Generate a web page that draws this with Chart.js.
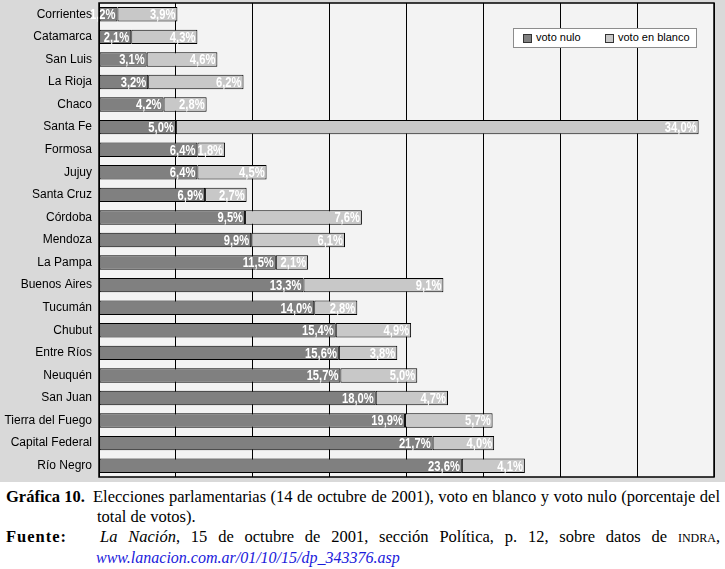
<!DOCTYPE html>
<html>
<head>
<meta charset="utf-8">
<script src="https://cdn.jsdelivr.net/npm/chart.js@4.4.1/dist/chart.umd.min.js"></script>
<style>
  body { margin: 0; background: #fff; width: 725px; height: 569px; overflow: hidden; }
  #wrap { position: relative; width: 725px; height: 482px; background: #d9d9d9; }
  #votosChart { display: block; }
  #legend {
    position: absolute; left: 513px; top: 28px; width: 182px; height: 18px;
    background: #fff; border: 1px solid #8c8c8c;
    font: 11px "Liberation Sans", Arial, sans-serif; color: #000;
  }
  #legend span.box { position: absolute; top: 5px; width: 7px; height: 7px; border: 1px solid #333; }
  #legend span.txt { position: absolute; top: 2px; }
  .cap { position: absolute; font: 16.5px "Liberation Serif", "Times New Roman", serif; color: #000; line-height: 20px; }
  .cap b { font-weight: bold; }
</style>
</head>
<body>
<div id="wrap">
  <canvas id="votosChart" width="725" height="482"></canvas>
  <div id="legend">
    <span class="box" style="left:9px;background:#808080"></span><span class="txt" style="left:22px">voto nulo</span>
    <span class="box" style="left:91px;background:#c8c8c8"></span><span class="txt" style="left:104px">voto en blanco</span>
  </div>
</div>
<div class="cap" style="left:6px;top:487px;"><b>Gráfica 10.</b></div>
<div class="cap" style="left:93px;top:487px;width:627px;">
  <div style="text-align:justify;text-align-last:justify;">Elecciones parlamentarias (14 de octubre de 2001), voto en blanco y voto nulo (porcentaje del</div>
  <div style="padding-left:4px">total de votos).</div>
</div>
<div class="cap" style="left:6px;top:527px;letter-spacing:1px;"><b>Fuente:</b></div>
<div class="cap" style="left:96px;top:527px;width:624px;">
  <div style="text-align:justify;text-align-last:justify;padding-left:4px"><i>La Nación</i>, 15 de octubre de 2001, sección Política, p. 12, sobre datos de <span style="font-size:12px">INDRA</span>,</div>
  <div style="color:#1a1adb;font-style:italic;font-size:16px">www.lanacion.com.ar/01/10/15/dp_343376.asp</div>
</div>

<script>
// Datos (porcentaje del total de votos)
const provincias = [
  "Corrientes", "Catamarca", "San Luis", "La Rioja", "Chaco", "Santa Fe",
  "Formosa", "Jujuy", "Santa Cruz", "Córdoba", "Mendoza", "La Pampa",
  "Buenos Aires", "Tucumán", "Chubut", "Entre Ríos", "Neuquén", "San Juan",
  "Tierra del Fuego", "Capital Federal", "Río Negro"
];
const votoNulo = [
  1.2, 2.1, 3.1, 3.2, 4.2, 5.0, 6.4, 6.4, 6.9, 9.5, 9.9, 11.5,
  13.3, 14.0, 15.4, 15.6, 15.7, 18.0, 19.9, 21.7, 23.6
];
const votoBlanco = [
  3.9, 4.3, 4.6, 6.2, 2.8, 34.0, 1.8, 4.5, 2.7, 7.6, 6.1, 2.1,
  9.1, 2.8, 4.9, 3.8, 5.0, 4.7, 5.7, 4.0, 4.1
];
const xTicks = [0, 5, 10, 15, 20, 25, 30, 35, 40];

// Fondo y marco del area de grafico
const plotArea = {
  id: "plotArea",
  beforeDraw(chart) {
    const { ctx, chartArea: a } = chart;
    ctx.save();
    ctx.fillStyle = "#f3f3f3";
    ctx.fillRect(a.left, a.top, a.right - a.left, a.bottom - a.top);
    ctx.restore();
  },
  afterDraw(chart) {
    const { ctx, chartArea: a } = chart;
    ctx.save();
    ctx.strokeStyle = "#000";
    ctx.lineWidth = 1.5;
    ctx.strokeRect(a.left, a.top, a.right - a.left, a.bottom - a.top);
    ctx.restore();
  }
};

// Etiquetas de valor dentro de cada segmento (letra estrecha)
const valueLabels = {
  id: "valueLabels",
  afterDatasetsDraw(chart) {
    const ctx = chart.ctx;
    ctx.save();
    ctx.font = 'bold 14px "Liberation Sans", Arial, sans-serif';
    ctx.fillStyle = "#fff";
    ctx.textAlign = "right";
    ctx.textBaseline = "middle";
    chart.data.datasets.forEach((ds, i) => {
      chart.getDatasetMeta(i).data.forEach((bar, j) => {
        const txt = ds.data[j].toFixed(1).replace(".", ",") + "%";
        ctx.save();
        ctx.translate(bar.x - 2, bar.y + 1);
        ctx.scale(0.8, 1);
        ctx.fillText(txt, 0, 0);
        ctx.restore();
      });
    });
    ctx.restore();
  }
};

new Chart(document.getElementById("votosChart"), {
  type: "bar",
  data: {
    labels: provincias,
    datasets: [
      {
        label: "voto nulo",
        data: votoNulo,
        backgroundColor: "#808080",
        borderColor: "#000",
        borderWidth: 1,
        borderSkipped: false
      },
      {
        label: "voto en blanco",
        data: votoBlanco,
        backgroundColor: "#c8c8c8",
        borderColor: "#000",
        borderWidth: 1,
        borderSkipped: false
      }
    ]
  },
  options: {
    indexAxis: "y",
    responsive: false,
    animation: false,
    layout: { padding: { left: 0, right: 11, top: 3, bottom: 5 } },
    datasets: { bar: { categoryPercentage: 1, barPercentage: 0.64 } },
    plugins: { legend: { display: false }, tooltip: { enabled: false } },
    scales: {
      x: {
        stacked: true,
        min: 0,
        max: 40,
        afterBuildTicks(s) { s.ticks = xTicks.map(v => ({ value: v })); },
        ticks: { display: false },
        grid: { color: "#000", lineWidth: 1, drawTicks: false },
        border: { display: false },
        afterFit(s) { s.height = 0; s.paddingLeft = 0; s.paddingRight = 0; }
      },
      y: {
        stacked: true,
        afterFit(s) { s.width = 99; s.paddingTop = 0; s.paddingBottom = 0; },
        ticks: {
          color: "#000",
          padding: 7,
          font: { family: '"Liberation Sans", Arial, sans-serif', size: 12 }
        },
        grid: { display: false, drawTicks: false },
        border: { display: false }
      }
    }
  },
  plugins: [plotArea, valueLabels]
});
</script>
</body>
</html>
